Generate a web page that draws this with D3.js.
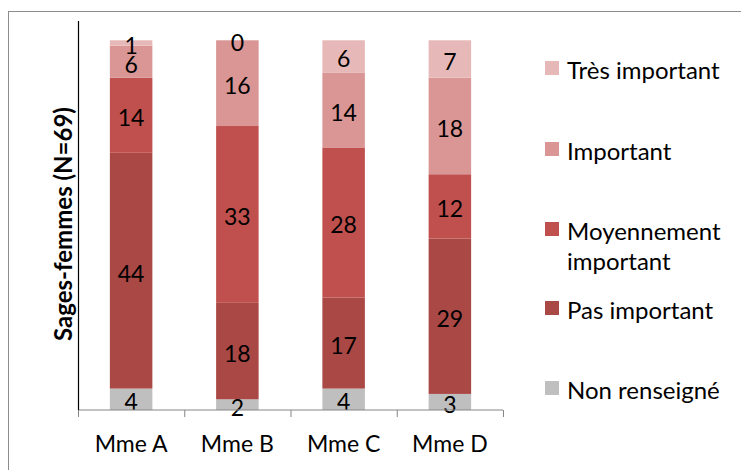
<!DOCTYPE html>
<head>
  <meta charset="utf-8">
  <title>Sages-femmes</title>
  <style>
    body { margin: 0; background: #fff; }
    text { font-family: Lato, "Open Sans", sans-serif; fill: #000; }
  </style>
</head>
<body>
<svg width="741" height="470"></svg>
<script src="https://d3js.org/d3.v7.min.js"></script>
<script>

var categories = ["Mme A", "Mme B", "Mme C", "Mme D"];

// bottom to top
var series = ["Non renseigné", "Pas important", "Moyennement important", "Important", "Très important"];
var nonRenseigne = [4, 2, 4, 3];
var pasImportant = [44, 18, 17, 29];
var moyennement  = [14, 33, 28, 12];
var important    = [6, 16, 14, 18];
var tresImportant = [1, 0, 6, 7];

var colors = ["#bfbfbf", "#a94845", "#c0504d", "#d99694", "#e6b9b8"];

var rows = categories.map(function(c, i) {
  return {
    cat: c,
    "Non renseigné": nonRenseigne[i],
    "Pas important": pasImportant[i],
    "Moyennement important": moyennement[i],
    "Important": important[i],
    "Très important": tresImportant[i]
  };
});

var svg = d3.select("svg");

// outer frame of the chart (right & bottom edges fall outside the picture)
svg.append("rect")
    .attr("x", 8.5).attr("y", 11.5)
    .attr("width", 760).attr("height", 480)
    .attr("fill", "none")
    .attr("stroke", "#8c8c8c")
    .attr("stroke-width", 1);

var x = d3.scaleBand()
    .domain(categories)
    .range([78, 503])
    .paddingInner(0.6)
    .paddingOuter(0.3);

var y = d3.scaleLinear()
    .domain([0, 72.6])
    .range([410, 21]);

var stack = d3.stack().keys(series);
var layers = stack(rows);

var g = svg.selectAll("g.layer")
  .data(layers)
  .enter().append("g")
    .attr("class", "layer")
    .attr("fill", function(d, i) { return colors[i]; });

g.selectAll("rect")
  .data(function(d) { return d; })
  .enter().append("rect")
    .attr("x", function(d) { return x(d.data.cat); })
    .attr("y", function(d) { return y(d[1]); })
    .attr("width", x.bandwidth())
    .attr("height", function(d) { return y(d[0]) - y(d[1]); });

// value labels
layers.forEach(function(layer) {
  svg.selectAll(null)
    .data(layer)
    .enter().append("text")
      .attr("x", function(d) { return x(d.data.cat) + x.bandwidth() / 2; })
      .attr("y", function(d) { return (y(d[0]) + y(d[1])) / 2 + 2; })
      .attr("text-anchor", "middle")
      .attr("dominant-baseline", "central")
      .style("font-size", "23px")
      .text(function(d) { return d[1] - d[0]; });
});

// x axis
var xAxis = svg.append("g")
    .attr("transform", "translate(0,410)");
xAxis.append("line")
    .attr("x1", 78).attr("x2", 503)
    .attr("stroke", "#868686");
var step = (503 - 78) / categories.length;
xAxis.selectAll("line.tick")
  .data(d3.range(categories.length + 1))
  .enter().append("line")
    .attr("class", "tick")
    .attr("x1", function(i) { return 78.5 + i * step; })
    .attr("x2", function(i) { return 78.5 + i * step; })
    .attr("y1", 0).attr("y2", 7)
    .attr("stroke", "#868686");
xAxis.selectAll("text")
  .data(categories)
  .enter().append("text")
    .attr("x", function(d) { return x(d) + x.bandwidth() / 2; })
    .attr("y", 42)
    .attr("text-anchor", "middle")
    .style("font-size", "23px")
    .text(function(d) { return d; });

// y axis line
svg.append("line")
    .attr("x1", 78.5).attr("x2", 78.5)
    .attr("y1", y.range()[1]).attr("y2", 410)
    .attr("stroke", "#000")
    .attr("stroke-width", 1.2);

svg.append("text")
    .attr("transform", "translate(62,224) rotate(-90)")
    .attr("text-anchor", "middle")
    .attr("dominant-baseline", "central")
    .style("font-size", "24px")
    .style("font-weight", "bold")
    .text("Sages-femmes (N=69)");

// legend (top to bottom)
var legendItems = [
  { key: "Très important", lines: ["Très important"], y: 68 },
  { key: "Important", lines: ["Important"], y: 149 },
  { key: "Moyennement important", lines: ["Moyennement", "important"], y: 229 },
  { key: "Pas important", lines: ["Pas important"], y: 308 },
  { key: "Non renseigné", lines: ["Non renseigné"], y: 388 }
];

var legend = svg.selectAll("g.legend")
  .data(legendItems)
  .enter().append("g")
    .attr("class", "legend")
    .attr("transform", function(d) { return "translate(545," + d.y + ")"; });

legend.append("rect")
    .attr("x", 0).attr("y", -7)
    .attr("width", 14).attr("height", 14)
    .attr("fill", function(d) { return colors[series.indexOf(d.key)]; });

legend.each(function(d) {
  var t = d3.select(this);
  d.lines.forEach(function(line, j) {
    t.append("text")
      .attr("x", 22)
      .attr("y", j * 30 + 1)
      .attr("dominant-baseline", "central")
      .style("font-size", "24px")
      .text(line);
  });
});

</script>
</body>
